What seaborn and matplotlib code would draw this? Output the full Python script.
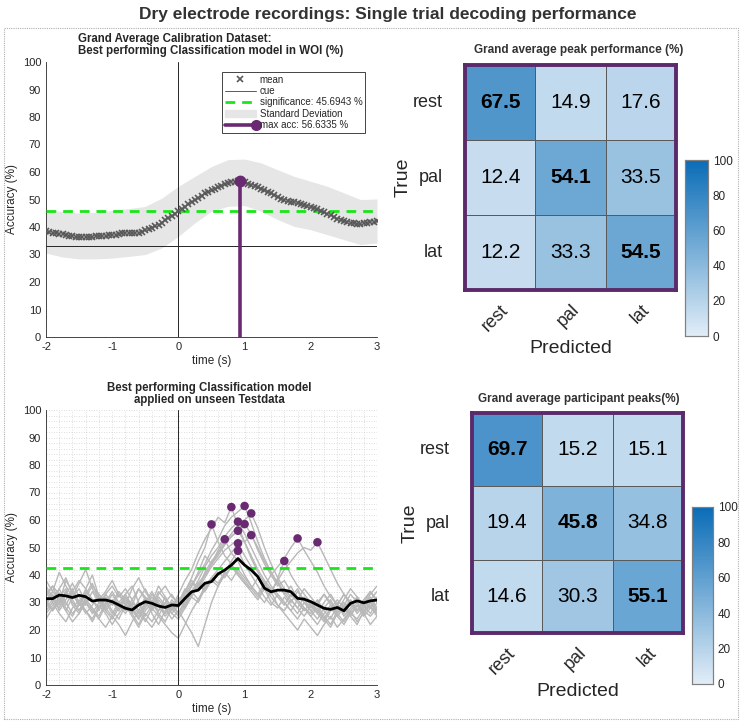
import numpy as np
import pandas as pd
import seaborn as sns
import matplotlib.pyplot as plt
from matplotlib.lines import Line2D
from matplotlib.patches import Patch, Rectangle
from matplotlib.legend_handler import HandlerLine2D
from matplotlib.colors import LinearSegmentedColormap
from matplotlib.ticker import MultipleLocator

# ---------------- data ----------------
# calibration grand average (step 0.05 s)
calib_time = np.round(np.arange(-2.0, 3.0001, 0.05), 2)
calib_mean = [38.5, 38.3, 38.0, 37.8, 37.6, 37.3, 37.0, 36.8, 36.6, 36.4,
              36.3, 36.3, 36.2, 36.4, 36.5, 36.6, 36.7, 36.8, 36.9, 37.0,
              37.1, 37.2, 37.6, 37.8, 37.8, 37.9, 37.8, 37.8, 38.0, 38.3,
              38.8, 39.3, 39.8, 40.3, 40.9, 41.6, 42.4, 43.2, 44.0, 44.9,
              45.7, 46.5, 47.3, 48.2, 49.0, 49.8, 50.6, 51.4, 52.2, 52.9,
              53.5, 54.0, 54.5, 55.0, 55.5, 56.0, 56.3, 56.5, 56.6, 56.6,
              56.2, 55.8, 55.4, 54.9, 54.4, 53.9, 53.4, 52.8, 52.2, 51.5,
              50.9, 50.3, 49.8, 49.4, 49.2, 49.0, 48.7, 48.3, 47.9, 47.6,
              47.3, 46.9, 46.6, 46.0, 45.4, 44.8, 44.2, 43.6, 43.0, 42.5,
              42.1, 41.8, 41.5, 41.3, 41.2, 41.2, 41.3, 41.5, 41.8, 42.0, 42.2]
sd_time = np.round(np.arange(-2.0, 3.0001, 0.25), 2)
sd_upper = [46.0, 45.7, 45.0, 45.3, 46.0, 46.7, 47.5, 50.5, 54.8, 58.4, 62.0,
            64.5, 64.7, 63.3, 60.8, 58.4, 56.6, 54.8, 52.4, 50.0, 50.2]
sd_lower = [30.5, 29.1, 28.4, 28.4, 28.7, 29.3, 30.0, 32.4, 36.6, 41.5, 45.7,
            47.5, 47.8, 45.7, 42.7, 40.2, 39.0, 37.2, 35.4, 33.6, 34.2]
calib_sig = 45.6943
calib_peak_time = 0.93
calib_peak_acc = 56.6335
chance = 33.0

# test data per participant (step 0.1 s)
test_time = np.round(np.arange(-2.0, 3.0001, 0.1), 1)
participants = {
    'P01': [33, 36, 30, 38, 34, 29, 35, 40, 32, 28, 31, 27, 33, 36, 30, 25, 29, 34, 31, 27,
            30, 34, 39, 45, 50, 58.4, 52, 47, 44, 40, 37, 34, 31, 35, 30, 28, 32, 29, 26, 30,
            27, 24, 28, 31, 26, 29, 33, 30, 27, 25, 28],
    'P02': [28, 31, 35, 30, 26, 29, 33, 37, 31, 27, 24, 28, 32, 29, 35, 31, 26, 22, 27, 30,
            26, 31, 36, 41, 47, 44, 49, 53.0, 48, 45, 40, 36, 33, 30, 34, 29, 27, 31, 28, 25,
            29, 26, 23, 27, 30, 25, 28, 32, 29, 26, 30],
    'P03': [38, 34, 41, 36, 32, 37, 42, 35, 31, 34, 38, 33, 29, 35, 39, 34, 30, 36, 32, 28,
            33, 38, 42, 48, 53, 57, 61, 59, 64.7, 58, 52, 46, 41, 37, 34, 38, 33, 30, 34, 31,
            28, 31, 27, 24, 29, 33, 30, 26, 29, 32, 28],
    'P04': [30, 27, 32, 35, 29, 26, 31, 28, 24, 29, 33, 29, 26, 30, 27, 23, 28, 32, 29, 26,
            29, 32, 36, 40, 44, 49, 53, 58, 61, 63, 65.1, 59, 52, 46, 41, 37, 33, 36, 31, 28,
            26, 29, 25, 22, 27, 30, 26, 24, 28, 31, 27],
    'P05': [35, 31, 28, 33, 37, 32, 29, 34, 30, 27, 30, 34, 31, 27, 24, 29, 33, 30, 26, 31,
            28, 33, 37, 35, 41, 45, 48, 52, 55, 58, 60, 62.4, 57, 50, 44, 39, 35, 32, 35, 30,
            27, 30, 33, 29, 25, 28, 31, 27, 30, 34, 31],
    'P06': [26, 29, 32, 28, 25, 30, 27, 23, 28, 31, 27, 24, 29, 26, 22, 27, 30, 26, 23, 28,
            25, 29, 34, 38, 43, 47, 50, 54, 57, 59.4, 55, 50, 45, 40, 36, 33, 30, 27, 31, 28,
            25, 28, 24, 21, 26, 29, 25, 22, 27, 30, 26],
    'P07': [32, 36, 33, 29, 34, 38, 35, 31, 28, 33, 36, 32, 35, 31, 27, 32, 28, 33, 36, 32,
            30, 35, 32, 37, 40, 44, 47, 51, 54, 56, 58.5, 55, 49, 44, 40, 36, 38, 34, 31, 35,
            32, 29, 33, 30, 27, 31, 35, 32, 29, 33, 36],
    'P08': [29, 33, 27, 31, 35, 30, 26, 29, 33, 28, 25, 29, 32, 28, 25, 30, 34, 29, 25, 28,
            31, 28, 33, 36, 40, 44, 48, 51, 54, 56.1, 52, 47, 42, 38, 35, 32, 29, 33, 30, 27,
            30, 27, 24, 28, 31, 28, 25, 29, 26, 30, 27],
    'P09': [36, 32, 29, 34, 31, 27, 32, 36, 33, 30, 34, 30, 27, 31, 35, 32, 28, 25, 30, 33,
            29, 34, 38, 35, 39, 43, 46, 49, 51, 53, 52, 54.5, 50, 45, 41, 37, 34, 31, 28, 32,
            29, 26, 30, 33, 29, 26, 30, 27, 31, 28, 32],
    'P10': [24, 28, 31, 27, 23, 26, 30, 27, 24, 21, 25, 22, 18, 23, 27, 24, 21, 25, 22, 19,
            17, 22, 27, 31, 35, 39, 42, 45, 48, 51.5, 47, 43, 39, 35, 32, 29, 26, 23, 20, 24,
            21, 18, 22, 25, 21, 24, 27, 23, 26, 22, 25],
    'P11': [31, 27, 30, 34, 30, 27, 31, 28, 25, 30, 26, 30, 33, 29, 26, 30, 27, 31, 28, 24,
            27, 23, 19, 14, 22, 30, 36, 41, 45, 48.8, 44, 40, 36, 32, 29, 33, 30, 27, 24, 28,
            25, 22, 26, 29, 26, 23, 27, 30, 26, 29, 25],
    'P12': [27, 30, 26, 23, 28, 31, 27, 24, 29, 26, 22, 26, 29, 25, 21, 26, 23, 27, 30, 26,
            24, 28, 32, 30, 35, 38, 36, 40, 43, 41, 38, 35, 32, 36, 33, 39, 45.1, 40, 36, 33,
            30, 27, 24, 28, 25, 22, 26, 29, 25, 28, 26],
    'P13': [34, 30, 35, 39, 33, 29, 34, 31, 27, 32, 29, 33, 30, 26, 31, 35, 30, 27, 32, 28,
            32, 29, 33, 37, 34, 38, 41, 39, 43, 40, 37, 35, 39, 36, 40, 43, 46, 50, 53.3, 49,
            45, 41, 36, 32, 29, 33, 30, 27, 31, 34, 30],
    'P14': [30, 34, 31, 27, 32, 35, 30, 26, 30, 33, 30, 27, 31, 28, 24, 28, 32, 29, 26, 29,
            26, 30, 34, 31, 36, 39, 37, 41, 38, 42, 39, 36, 33, 37, 34, 38, 42, 45, 48, 50,
            49, 51.9, 47, 42, 37, 33, 29, 32, 28, 31, 34],
}
test_mean = [31.4, 31.4, 32.7, 32.4, 31.8, 32.6, 32.1, 30.5, 30.9, 30.9,
             30.3, 29.1, 27.9, 27.3, 29.1, 30.3, 29.7, 28.7, 28.2, 29.1,
             28.9, 31.5, 33.9, 34.5, 37.0, 37.6, 40.4, 41.8, 43.6, 46.0,
             43.6, 41.8, 39.4, 35.2, 33.9, 34.5, 34.5, 33.9, 31.5, 31.2,
             30.3, 29.1, 27.9, 27.5, 28.2, 27.0, 29.7, 30.6, 29.9, 30.6, 30.9]
test_sig = 42.7

classes = ['rest', 'pal', 'lat']
cm_peak = [[67.5, 14.9, 17.6],
           [12.4, 54.1, 33.5],
           [12.2, 33.3, 54.5]]
cm_participant = [[69.7, 15.2, 15.1],
                  [19.4, 45.8, 34.8],
                  [14.6, 30.3, 55.1]]

# ---------------- style ----------------
sns.set_theme(style='white')
plt.rcParams['font.family'] = ['Liberation Sans', 'DejaVu Sans']
plt.rcParams['axes.unicode_minus'] = False
TXT = '#262626'
PURPLE = '#6a2a72'
GREEN = '#19e619'
MEANCOL = '#595959'
plt.rcParams['text.color'] = TXT
plt.rcParams['axes.labelcolor'] = TXT
plt.rcParams['xtick.color'] = TXT
plt.rcParams['ytick.color'] = TXT

W, H = 742, 725
fig = plt.figure(figsize=(W / 100, H / 100), dpi=100)


def box(l, t, r, b):
    return [l / W, 1 - b / H, (r - l) / W, (b - t) / H]


# outer dotted frame
fig.patches.append(Rectangle((4 / W, 1 - 719 / H), 734 / W, 691 / H, transform=fig.transFigure,
                             fill=False, ec='#b0b0b0', lw=0.8, ls=(0, (1, 1))))
fig.text(388 / W, 1 - 15 / H, 'Dry electrode recordings: Single trial decoding performance',
         ha='center', va='center', fontsize=12.5, fontweight='bold', color='#333333')


def style_line_axes(ax):
    ax.set_xlim(-2, 3)
    ax.set_ylim(0, 100)
    ax.set_xticks(range(-2, 4))
    ax.set_yticks(range(0, 101, 10))
    ax.tick_params(direction='in', length=3, labelsize=8, width=0.6, colors=TXT)
    for s in ['top', 'right']:
        ax.spines[s].set_visible(False)
    for s in ['left', 'bottom']:
        ax.spines[s].set_color('#262626')
        ax.spines[s].set_linewidth(0.6)
    ax.set_xlabel('time (s)', fontsize=8.5, labelpad=2)
    ax.set_ylabel('Accuracy (%)', fontsize=8.5, labelpad=3)


# ---------------- top left: calibration ----------------
ax1 = fig.add_axes(box(46, 62, 377, 337))
ax1.fill_between(sd_time, sd_lower, sd_upper, color='#e6e6e6', lw=0, zorder=1)
ax1.axhline(chance, color='#262626', lw=0.7, zorder=2)
ax1.axvline(0, color='#262626', lw=0.7, zorder=2)
ax1.axhline(calib_sig, color=GREEN, lw=2, ls=(0, (3.5, 2.5)), zorder=3)
sns.lineplot(x=calib_time, y=calib_mean, ax=ax1, lw=0, marker='x', markersize=4,
             markeredgewidth=1.2, color=MEANCOL, markeredgecolor=MEANCOL, zorder=4)
ax1.plot([calib_peak_time, calib_peak_time], [0, calib_peak_acc], color=PURPLE, lw=2.6, zorder=5)
ax1.plot([calib_peak_time], [calib_peak_acc], 'o', color=PURPLE, ms=7.5, zorder=6)
style_line_axes(ax1)


class EndMarker(HandlerLine2D):
    def create_artists(self, *args, **kwargs):
        arts = super().create_artists(*args, **kwargs)
        arts[0].set_markevery([2])
        return arts


handles = [Line2D([], [], ls='none', marker='x', color=MEANCOL, ms=4, mew=1.2),
           Line2D([], [], color=MEANCOL, lw=0.7),
           Line2D([], [], color=GREEN, lw=2, ls=(0, (3.5, 2.5))),
           Patch(color='#e6e6e6'),
           Line2D([], [], color=PURPLE, lw=2.6, marker='o', ms=7)]
labels = ['mean', 'cue', 'significance: %.4f %%' % calib_sig, 'Standard Deviation',
          'max acc: %.4f %%' % calib_peak_acc]
leg = ax1.legend(handles, labels, loc='upper right', bbox_to_anchor=(0.965, 0.965),
                 fontsize=7, frameon=True, fancybox=False, edgecolor='#262626',
                 framealpha=1, labelspacing=0.15, handlelength=3.2, handletextpad=0.4,
                 borderpad=0.3, borderaxespad=0, numpoints=1,
                 handler_map={handles[4]: EndMarker(numpoints=1)})
leg.get_frame().set_linewidth(0.6)
fig.text(211 / W, 1 - 45 / H, 'Grand Average Calibration Dataset:\nBest performing Classification model in WOI (%)',
         ha='center', va='center', multialignment='left', fontsize=8.3, fontweight='bold',
         linespacing=1.05)

# ---------------- bottom left: test data ----------------
ax2 = fig.add_axes(box(46, 410, 377, 685))
ax2.xaxis.set_minor_locator(MultipleLocator(0.2))
ax2.yaxis.set_minor_locator(MultipleLocator(2))
ax2.grid(True, which='both', ls=(0, (1, 2)), color='#d2d2d2', lw=0.6, zorder=0)
ax2.set_axisbelow(True)
long_df = pd.DataFrame([(p, t, a) for p, vals in participants.items()
                        for t, a in zip(test_time, vals)],
                       columns=['participant', 'time', 'acc'])
sns.lineplot(data=long_df, x='time', y='acc', units='participant', estimator=None,
             color='#b8b8b8', lw=1, ax=ax2, zorder=2)
ax2.axvline(0, color='#262626', lw=0.7, zorder=3)
ax2.axhline(test_sig, color=GREEN, lw=2, ls=(0, (3.5, 2.5)), zorder=3)
sns.lineplot(x=test_time, y=test_mean, color='black', lw=2, ax=ax2, zorder=4)
peaks = long_df.loc[long_df.groupby('participant')['acc'].idxmax()]
sns.scatterplot(data=peaks, x='time', y='acc', color=PURPLE, s=38, edgecolor='none',
                ax=ax2, zorder=5, legend=False)
style_line_axes(ax2)
ax2.tick_params(which='minor', length=0)
fig.text(209 / W, 1 - 394 / H, 'Best performing Classification model\napplied on unseen Testdata',
         ha='center', va='center', multialignment='center', fontsize=8.3, fontweight='bold',
         linespacing=1.05)

# ---------------- confusion matrices ----------------
cmap = LinearSegmentedColormap.from_list('mblue', ['#e1edf7', '#0a6cb6'])


def confusion(values, hm_box, cb_box, title, title_y):
    ax = fig.add_axes(box(*hm_box))
    cax = fig.add_axes(box(*cb_box))
    df = pd.DataFrame(values, index=classes, columns=classes)
    sns.heatmap(df, ax=ax, cbar_ax=cax, cmap=cmap, vmin=0, vmax=100, annot=True, fmt='.1f',
                annot_kws={'fontsize': 15, 'color': 'black'}, linewidths=0.7,
                linecolor='#5a5a5a')
    for txt in ax.texts:
        r, c = [int(np.floor(v)) for v in txt.get_position()][::-1]
        if r == c:
            txt.set_fontweight('bold')
    for s in ax.spines.values():
        s.set_visible(True)
        s.set_color('#5b2a6a')
        s.set_linewidth(2.8)
    ax.set_yticklabels(classes, rotation=0, fontsize=13)
    ax.set_xticklabels(classes, rotation=45, ha='right', rotation_mode='anchor', fontsize=13)
    ax.tick_params(axis='x', length=0, pad=8)
    ax.tick_params(axis='y', length=0, pad=16)
    ax.set_ylabel('True', fontsize=14, labelpad=1)
    ax.set_xlabel('Predicted', fontsize=14, labelpad=4)
    cax.tick_params(labelsize=8.5, length=3, width=0.6, direction='in', colors=TXT)
    cax.yaxis.set_major_locator(MultipleLocator(20))
    cax.yaxis.set_minor_locator(MultipleLocator(10))
    cax.tick_params(which='minor', length=2, direction='in', width=0.5)
    for s in cax.spines.values():
        s.set_visible(True)
        s.set_color('#808080')
        s.set_linewidth(0.8)
    fig.text(579 / W, 1 - title_y / H, title, ha='center', va='center', fontsize=8.5,
             fontweight='bold', color='#333333')


confusion(cm_peak, (465, 65, 676, 290), (685, 160, 708, 336),
          'Grand average peak performance (%)', 50)
confusion(cm_participant, (472, 413, 683, 633), (692, 507, 713, 684),
          'Grand average participant peaks(%)', 399)

fig.savefig('out.png', dpi=100)
